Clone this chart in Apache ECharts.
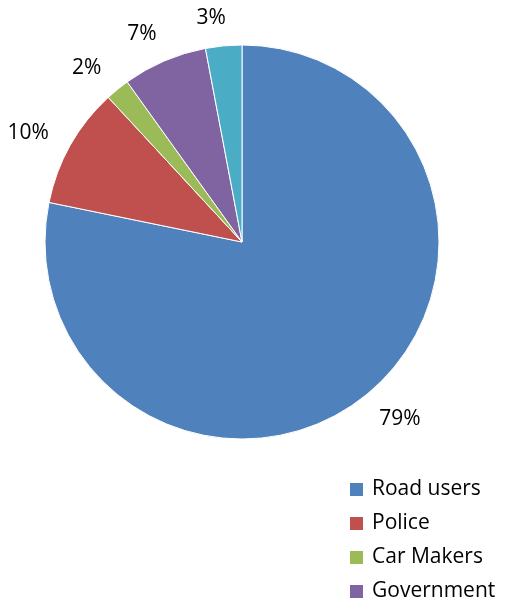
<!DOCTYPE html>
<html>
<head>
<meta charset="utf-8">
<script src="https://cdn.jsdelivr.net/npm/echarts@6/dist/echarts.min.js"></script>
<style>
  html, body { margin: 0; padding: 0; background: #fff; }
  #chart { width: 509px; height: 604px; }
</style>
</head>
<body>
<div id="chart"></div>
<script>
// Who is responsible for road safety – share of responses
const categories = ['Road users', 'Police', 'Car Makers', 'Government', 'Other'];
const shares = [79, 10, 2, 7, 3];
const colors = ['#4F81BD', '#C0504D', '#9BBB59', '#8064A2', '#4BACC6'];

const FONT = '"Open Sans", Lato, sans-serif';
const FONT_SIZE = 21;
const PIE_CENTER = [242, 242];
const PIE_RADIUS = 197;
const LABEL_GAP = 17;      // clearance between the rim and the nearest corner of a label box
const LABEL_PAD = 3;
const LABEL_TURN = -2.5;   // degrees; labels sit slightly anticlockwise of the slice middle

const pieData = categories.map((name, i) => ({
  name: name,
  value: shares[i],
  itemStyle: { color: colors[i] }
}));

// Push each percentage label out along its slice's mid direction until the
// corner of its box nearest the pie sits LABEL_GAP outside the rim.
function placeOutside(params) {
  const r = params.labelRect;
  const vx = r.x + r.width / 2 - PIE_CENTER[0];
  const vy = r.y + r.height / 2 - PIE_CENTER[1];
  const len = Math.hypot(vx, vy) || 1;
  const turn = LABEL_TURN * Math.PI / 180;
  const ux = (vx * Math.cos(turn) - vy * Math.sin(turn)) / len;
  const uy = (vx * Math.sin(turn) + vy * Math.cos(turn)) / len;
  const hw = r.width / 2 + LABEL_PAD;
  const hh = FONT_SIZE * 0.36 + LABEL_PAD;
  const a = Math.abs(ux) * hw + Math.abs(uy) * hh;
  const t = PIE_RADIUS + LABEL_GAP;
  const dist = a + Math.sqrt(Math.max(0, a * a - hw * hw - hh * hh + t * t));
  return {
    x: PIE_CENTER[0] + ux * dist,
    y: PIE_CENTER[1] + uy * dist,
    align: 'center',
    verticalAlign: 'middle'
  };
}

const chart = echarts.init(document.getElementById('chart'));
chart.setOption({
  animation: false,
  color: colors,
  legend: {
    orient: 'vertical',
    left: 348,
    top: 479,
    height: 220,
    padding: 0,
    itemWidth: 15,
    itemHeight: 15,
    itemGap: 13,
    icon: 'rect',
    data: categories,
    textStyle: { fontFamily: FONT, fontSize: FONT_SIZE, color: '#000', padding: [0, 0, 0, 3] }
  },
  series: [
    {
      // the slices
      type: 'pie',
      center: PIE_CENTER,
      radius: [0, PIE_RADIUS],
      startAngle: 90,
      clockwise: true,
      data: pieData,
      itemStyle: { borderColor: '#ffffff', borderWidth: 1 },
      label: { show: false },
      labelLine: { show: false },
      emphasis: { disabled: true }
    },
    {
      // transparent ring carrying the percentage labels outside the slices
      type: 'pie',
      center: PIE_CENTER,
      radius: [PIE_RADIUS, PIE_RADIUS + 60],
      startAngle: 90,
      clockwise: true,
      silent: true,
      legendHoverLink: false,
      data: pieData.map(d => ({ name: d.name, value: d.value, itemStyle: { color: 'transparent' } })),
      label: {
        show: true,
        position: 'inside',
        formatter: p => p.value + '%',
        fontFamily: FONT,
        fontSize: FONT_SIZE,
        color: '#000'
      },
      labelLayout: placeOutside,
      labelLine: { show: false },
      emphasis: { disabled: true }
    }
  ]
});
</script>
</body>
</html>
